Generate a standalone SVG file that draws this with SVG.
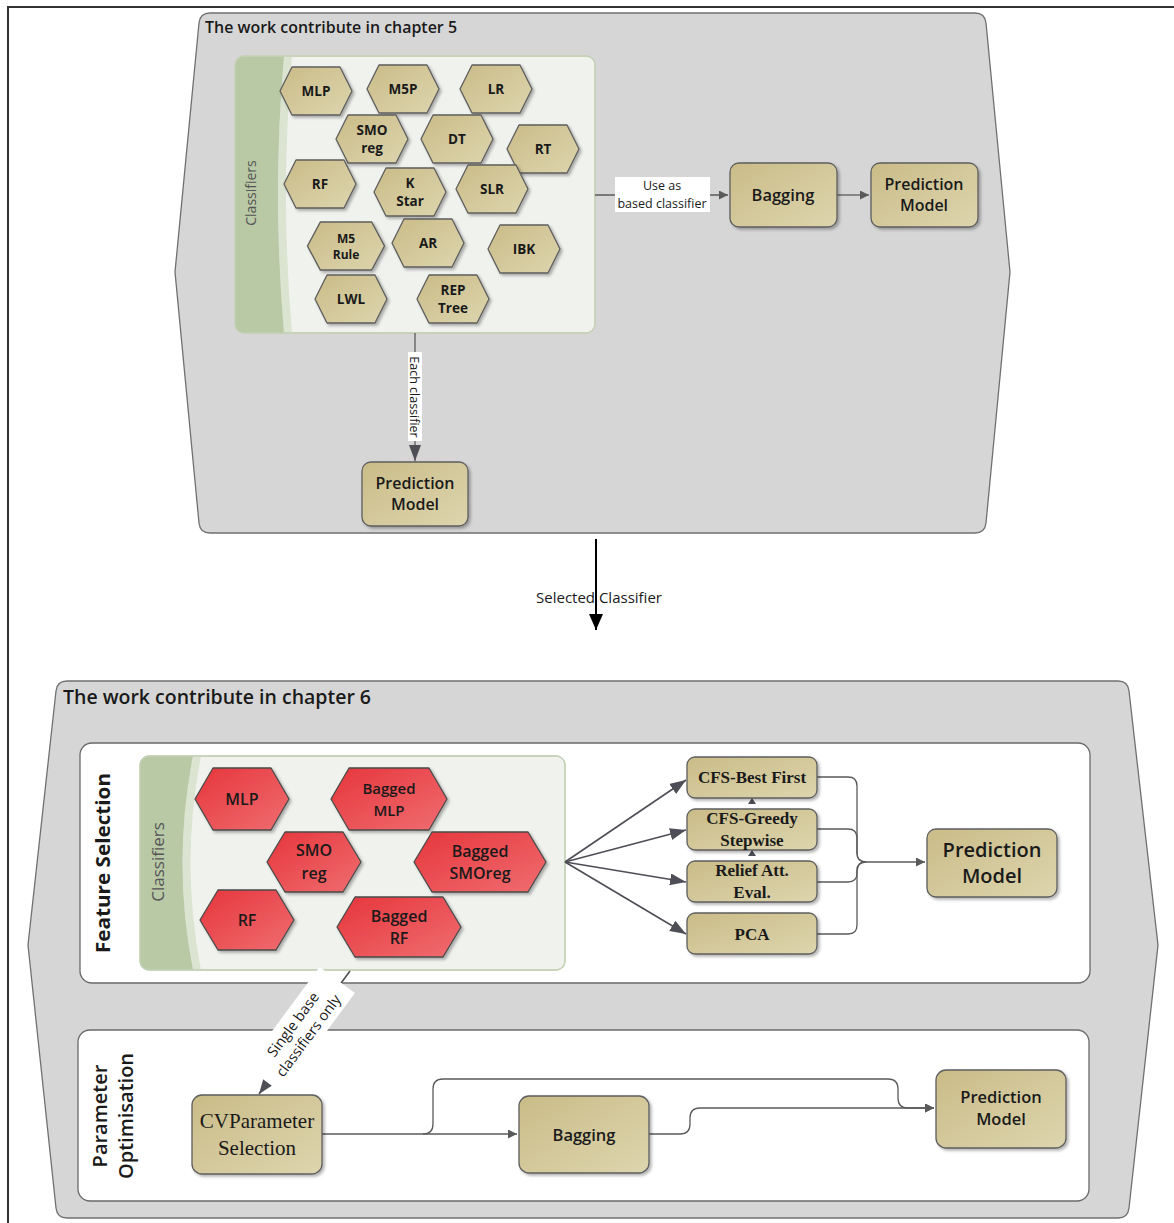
<svg xmlns="http://www.w3.org/2000/svg" xmlns:xlink="http://www.w3.org/1999/xlink" width="1174" height="1223" viewBox="0 0 1174 1223">
  <style>
    .frame { stroke: #333; stroke-width: 2; fill: none; }
    .panel { fill: #d6d6d6; stroke: #707070; stroke-width: 1.3; }
    .lane { fill: #ffffff; stroke: #6a6a6a; stroke-width: 1.3; }
    .tray { fill: #f0f2ee; stroke: #c5d1b7; stroke-width: 1.3; }
    .band { fill: #b9c8a5; }
    .band2 { fill: #dbe3d1; }
    .tan { fill: url(#gTan); stroke: #5e5e5e; stroke-width: 1.3; stroke-linejoin: round; filter: url(#sh); }
    .red { fill: url(#gRed); stroke: #4a4a4a; stroke-width: 1.3; stroke-linejoin: round; filter: url(#sh); }
    .sans { font-family: "Open Sans", "Liberation Sans", sans-serif; fill: #1a1a1a; }
    .hx { font-family: "Open Sans", "Liberation Sans", sans-serif; font-weight: 700; font-size: 13.5px; fill: #1a1a1a; text-anchor: middle; }
    .hxr { font-family: "Open Sans", "Liberation Sans", sans-serif; font-weight: 600; font-size: 16px; fill: #1a1a1a; text-anchor: middle; }
    .box { font-family: "Open Sans", "Liberation Sans", sans-serif; font-weight: 600; fill: #1a1a1a; text-anchor: middle; }
    .serifb { font-family: "Liberation Serif", "Times New Roman", serif; font-weight: 700; font-size: 17px; fill: #1a1a1a; text-anchor: middle; }
    .serif { font-family: "Liberation Serif", "Times New Roman", serif; font-size: 21px; fill: #1a1a1a; text-anchor: middle; }
    .cls { font-family: "Open Sans", "Liberation Sans", sans-serif; fill: #555; text-anchor: middle; }
    .lbl { font-family: "Open Sans", "Liberation Sans", sans-serif; font-size: 12.5px; fill: #1a1a1a; text-anchor: middle; }
    .lbl2 { font-family: "Open Sans", "Liberation Sans", sans-serif; font-size: 14.5px; fill: #1a1a1a; text-anchor: middle; }
    .conn { fill: none; stroke: #5a5a5a; stroke-width: 1.3; }
    .fan { fill: none; stroke: #4e4e56; stroke-width: 1.6; }
  </style>
  <defs>
    <linearGradient id="gTan" x1="0" y1="0" x2="1" y2="1">
      <stop offset="0" stop-color="#cabc88"/>
      <stop offset="1" stop-color="#ddd5ae"/>
    </linearGradient>
    <linearGradient id="gRed" x1="0" y1="0" x2="1" y2="1">
      <stop offset="0" stop-color="#e6363c"/>
      <stop offset="1" stop-color="#ef6d70"/>
    </linearGradient>
    <filter id="sh" x="-20%" y="-20%" width="150%" height="150%">
      <feDropShadow dx="2" dy="2" stdDeviation="1.5" flood-color="#000" flood-opacity="0.3"/>
    </filter>
    <marker id="arr" viewBox="0 0 10 10" refX="10" refY="5" markerWidth="9" markerHeight="9" markerUnits="userSpaceOnUse" orient="auto">
      <path d="M0,0 L10,5 L0,10 Z" fill="#5a5a5a"/>
    </marker>
    <marker id="arrL" viewBox="0 0 10 10" refX="10" refY="5" markerWidth="16" markerHeight="12" markerUnits="userSpaceOnUse" orient="auto" preserveAspectRatio="none">
      <path d="M0,0 L10,5 L0,10 Z" fill="#4e4e56"/>
    </marker>
    <marker id="arrB" viewBox="0 0 10 10" refX="10" refY="5" markerWidth="16" markerHeight="14" markerUnits="userSpaceOnUse" orient="auto" preserveAspectRatio="none">
      <path d="M0,0 L10,5 L0,10 Z" fill="#000"/>
    </marker>
    <path id="hexT" d="M-36,0 L-24,-24 L24,-24 L36,0 L24,24 L-24,24 Z"/>
    <clipPath id="cTop"><rect x="235" y="56" width="360" height="277" rx="9"/></clipPath>
    <clipPath id="cBot"><rect x="140" y="756" width="425" height="214" rx="9"/></clipPath>
  </defs>

  <!-- page frame -->
  <path class="frame" d="M7,7 H1174 M8,7 V1223"/>

  <!-- chapter 5 panel -->
  <g id="panel-ch5">
    <path class="panel" d="M210,13 L975,13 Q985,13 986,23 L1010,272 L986,523 Q985,533 975,533 L210,533 Q200,533 199,523 L175,272 L199,23 Q200,13 210,13 Z"/>
    <text class="sans" x="205" y="33" font-size="16.5" font-weight="600" textLength="252" lengthAdjust="spacingAndGlyphs">The work contribute in chapter 5</text>
  </g>

  <!-- chapter 6 panel -->
  <g id="panel-ch6">
    <path class="panel" d="M67,681 L1118,681 Q1128,681 1129,691 L1158,945 L1129,1208 Q1128,1218 1118,1218 L67,1218 Q57,1218 56,1208 L28,945 L56,691 Q57,681 67,681 Z"/>
    <text class="sans" x="63" y="704" font-size="20" font-weight="600" textLength="308" lengthAdjust="spacingAndGlyphs">The work contribute in chapter 6</text>
  </g>

  <!-- lanes -->
  <g id="lane-feature-selection">
    <rect class="lane" x="80" y="743" width="1010" height="240" rx="12"/>
    <text class="sans" transform="translate(110,863) rotate(-90)" text-anchor="middle" font-size="20" font-weight="700" textLength="180" lengthAdjust="spacingAndGlyphs">Feature Selection</text>
  </g>
  <g id="lane-parameter-optimisation">
    <rect class="lane" x="78" y="1030" width="1011" height="171" rx="12"/>
    <text class="sans" transform="translate(107,1116) rotate(-90)" text-anchor="middle" font-size="20" font-weight="600">Parameter</text>
    <text class="sans" transform="translate(133,1116) rotate(-90)" text-anchor="middle" font-size="20" font-weight="600">Optimisation</text>
  </g>

  <!-- classifier tray, chapter 5 -->
  <g id="tray-ch5">
    <rect class="tray" x="235" y="56" width="360" height="277" rx="9"/>
    <g clip-path="url(#cTop)">
      <path class="band2" d="M284,56 Q272,194 284,333 H292 Q280,194 292,56 Z"/>
      <path class="band" d="M235,56 H284 Q272,194 284,333 H235 Z"/>
    </g>
    <rect x="235" y="56" width="360" height="277" rx="9" fill="none" stroke="#c5d1b7" stroke-width="1.3"/>
    <text class="cls" transform="translate(256,193) rotate(-90)" font-size="14">Classifiers</text>
  </g>

  <!-- classifier tray, chapter 6 -->
  <g id="tray-ch6">
    <rect class="tray" x="140" y="756" width="425" height="214" rx="9"/>
    <g clip-path="url(#cBot)">
      <path class="band2" d="M193,756 Q172,863 193,970 H201 Q180,863 201,756 Z"/>
      <path class="band" d="M140,756 H193 Q172,863 193,970 H140 Z"/>
    </g>
    <rect x="140" y="756" width="425" height="214" rx="9" fill="none" stroke="#c5d1b7" stroke-width="1.3"/>
    <text class="cls" transform="translate(164,862) rotate(-90)" font-size="17">Classifiers</text>
  </g>

  <!-- connectors -->
  <g id="connectors">
    <path class="conn" d="M595,195 H728" marker-end="url(#arr)"/>
    <path class="conn" d="M837,195 H869" marker-end="url(#arr)"/>
    <path class="conn" d="M415,333 V461" marker-end="url(#arrL)"/>
    <path d="M596,539 V630" stroke="#000" stroke-width="2" fill="none" marker-end="url(#arrB)"/>

    <path class="fan" d="M565,862 L686,780" marker-end="url(#arrL)"/>
    <path class="fan" d="M565,862 L686,830" marker-end="url(#arrL)"/>
    <path class="fan" d="M565,862 L686,882" marker-end="url(#arrL)"/>
    <path class="fan" d="M565,862 L686,934" marker-end="url(#arrL)"/>
    <polygon points="748,804 752,798 756,804" fill="#4e4e56"/>
    <polygon points="748,856 752,850 756,856" fill="#4e4e56"/>

    <path class="conn" d="M817,777 H848 Q857,777 857,786 V853 Q857,862 866,862"/>
    <path class="conn" d="M817,829 H848 Q857,829 857,838 V853 Q857,862 866,862"/>
    <path class="conn" d="M817,882 H848 Q857,882 857,873 V871 Q857,862 866,862"/>
    <path class="conn" d="M817,934 H848 Q857,934 857,925 V871 Q857,862 866,862"/>
    <path class="conn" d="M866,862 H925" marker-end="url(#arr)"/>

    <path class="fan" d="M350,971 L259,1094" marker-end="url(#arrL)"/>

    <path class="conn" d="M322,1134 H517" marker-end="url(#arr)"/>
    <path class="conn" d="M423,1134 Q433,1134 433,1124 V1089 Q433,1079 443,1079 H888 Q898,1079 898,1089 V1098 Q898,1108 908,1108 H934" marker-end="url(#arr)"/>
    <path class="conn" d="M649,1134 H680 Q690,1134 690,1124 V1118 Q690,1108 700,1108 H934" marker-end="url(#arr)"/>

    <!-- connector labels -->
    <rect x="615" y="177" width="95" height="35" fill="#fff"/>
    <text class="lbl" x="662" y="190">Use as</text>
    <text class="lbl" x="662" y="208">based classifier</text>

    <rect x="408" y="352" width="14" height="89" fill="#fff"/>
    <text class="lbl" transform="translate(410,397) rotate(90)">Each classifier</text>

    <text class="sans" x="599" y="603" font-size="15" text-anchor="middle">Selected Classifier</text>

    <g transform="translate(302,1031) rotate(-53.5)">
      <rect x="-62" y="-24" width="124" height="44" fill="#fff"/>
      <text class="lbl2" x="0" y="-6">Single base</text>
      <text class="lbl2" x="0" y="13">classifiers only</text>
    </g>
  </g>

  <!-- chapter 5 classifiers -->
  <g id="c5-mlp"><use href="#hexT" class="tan" transform="translate(316,91)"/><text class="hx" x="316" y="96">MLP</text></g>
  <g id="c5-m5p"><use href="#hexT" class="tan" transform="translate(403,89)"/><text class="hx" x="403" y="94">M5P</text></g>
  <g id="c5-lr"><use href="#hexT" class="tan" transform="translate(496,89)"/><text class="hx" x="496" y="94">LR</text></g>
  <g id="c5-smoreg"><use href="#hexT" class="tan" transform="translate(372,139)"/><text class="hx" x="372" y="135">SMO</text><text class="hx" x="372" y="153">reg</text></g>
  <g id="c5-dt"><use href="#hexT" class="tan" transform="translate(457,139)"/><text class="hx" x="457" y="144">DT</text></g>
  <g id="c5-rt"><use href="#hexT" class="tan" transform="translate(543,149)"/><text class="hx" x="543" y="154">RT</text></g>
  <g id="c5-rf"><use href="#hexT" class="tan" transform="translate(320,184)"/><text class="hx" x="320" y="189">RF</text></g>
  <g id="c5-kstar"><use href="#hexT" class="tan" transform="translate(410,192)"/><text class="hx" x="410" y="188">K</text><text class="hx" x="410" y="206">Star</text></g>
  <g id="c5-slr"><use href="#hexT" class="tan" transform="translate(492,189)"/><text class="hx" x="492" y="194">SLR</text></g>
  <g id="c5-m5rule"><use href="#hexT" class="tan" transform="translate(346,246) scale(1.07,1)"/><text class="hx" x="346" y="243" style="font-size:12px">M5</text><text class="hx" x="346" y="259" style="font-size:12px">Rule</text></g>
  <g id="c5-ar"><use href="#hexT" class="tan" transform="translate(428,243)"/><text class="hx" x="428" y="248">AR</text></g>
  <g id="c5-ibk"><use href="#hexT" class="tan" transform="translate(524,249)"/><text class="hx" x="524" y="254">IBK</text></g>
  <g id="c5-lwl"><use href="#hexT" class="tan" transform="translate(351,299)"/><text class="hx" x="351" y="304">LWL</text></g>
  <g id="c5-reptree"><use href="#hexT" class="tan" transform="translate(453,299)"/><text class="hx" x="453" y="295">REP</text><text class="hx" x="453" y="313">Tree</text></g>

  <!-- chapter 5 boxes -->
  <g id="c5-bagging"><rect class="tan" x="730" y="163" width="107" height="64" rx="9"/><text class="box" x="783" y="201" font-size="16.5">Bagging</text></g>
  <g id="c5-prediction-right"><rect class="tan" x="871" y="163" width="107" height="64" rx="9"/><text class="box" x="924" y="190" font-size="16">Prediction</text><text class="box" x="924" y="211" font-size="16">Model</text></g>
  <g id="c5-prediction-below"><rect class="tan" x="362" y="462" width="106" height="64" rx="9"/><text class="box" x="415" y="489" font-size="16">Prediction</text><text class="box" x="415" y="510" font-size="16">Model</text></g>

  <!-- chapter 6 classifiers -->
  <g id="c6-mlp"><polygon class="red" points="195,799 213,768 271,768 289,799 271,830 213,830"/><text class="hxr" x="242" y="805">MLP</text></g>
  <g id="c6-bagged-mlp"><polygon class="red" points="331,799 349,768 429,768 447,799 429,830 349,830"/><text class="hxr" x="389" y="794" style="font-size:15px">Bagged</text><text class="hxr" x="389" y="816" style="font-size:15px">MLP</text></g>
  <g id="c6-smoreg"><polygon class="red" points="267,862 285,832 343,832 361,862 343,892 285,892"/><text class="hxr" x="314" y="856">SMO</text><text class="hxr" x="314" y="879">reg</text></g>
  <g id="c6-bagged-smoreg"><polygon class="red" points="414,862 432,832 528,832 546,862 528,892 432,892"/><text class="hxr" x="480" y="857">Bagged</text><text class="hxr" x="480" y="879">SMOreg</text></g>
  <g id="c6-rf"><polygon class="red" points="200,920 218,890 276,890 294,920 276,950 218,950"/><text class="hxr" x="247" y="926">RF</text></g>
  <g id="c6-bagged-rf"><polygon class="red" points="337,927 355,897 443,897 461,927 443,957 355,957"/><text class="hxr" x="399" y="922">Bagged</text><text class="hxr" x="399" y="944">RF</text></g>

  <!-- feature selection methods -->
  <g id="fs-cfs-best-first"><rect class="tan" x="687" y="757" width="130" height="41" rx="8"/><text class="serifb" x="752" y="783">CFS-Best First</text></g>
  <g id="fs-cfs-greedy"><rect class="tan" x="687" y="809" width="130" height="41" rx="8"/><text class="serifb" x="752" y="824">CFS-Greedy</text><text class="serifb" x="752" y="846">Stepwise</text></g>
  <g id="fs-relief"><rect class="tan" x="687" y="861" width="130" height="41" rx="8"/><text class="serifb" x="752" y="876">Relief Att.</text><text class="serifb" x="752" y="898">Eval.</text></g>
  <g id="fs-pca"><rect class="tan" x="687" y="913" width="130" height="41" rx="8"/><text class="serifb" x="752" y="940">PCA</text></g>
  <g id="fs-prediction"><rect class="tan" x="927" y="829" width="130" height="68" rx="9"/><text class="box" x="992" y="857" font-size="20">Prediction</text><text class="box" x="992" y="883" font-size="20">Model</text></g>

  <!-- parameter optimisation -->
  <g id="po-cvparameter"><rect class="tan" x="192" y="1095" width="130" height="79" rx="10"/><text class="serif" x="257" y="1128">CVParameter</text><text class="serif" x="257" y="1155">Selection</text></g>
  <g id="po-bagging"><rect class="tan" x="519" y="1096" width="130" height="77" rx="10"/><text class="box" x="584" y="1141" font-size="16.5">Bagging</text></g>
  <g id="po-prediction"><rect class="tan" x="936" y="1070" width="130" height="78" rx="10"/><text class="box" x="1001" y="1103" font-size="16.5">Prediction</text><text class="box" x="1001" y="1125" font-size="16.5">Model</text></g>
</svg>
